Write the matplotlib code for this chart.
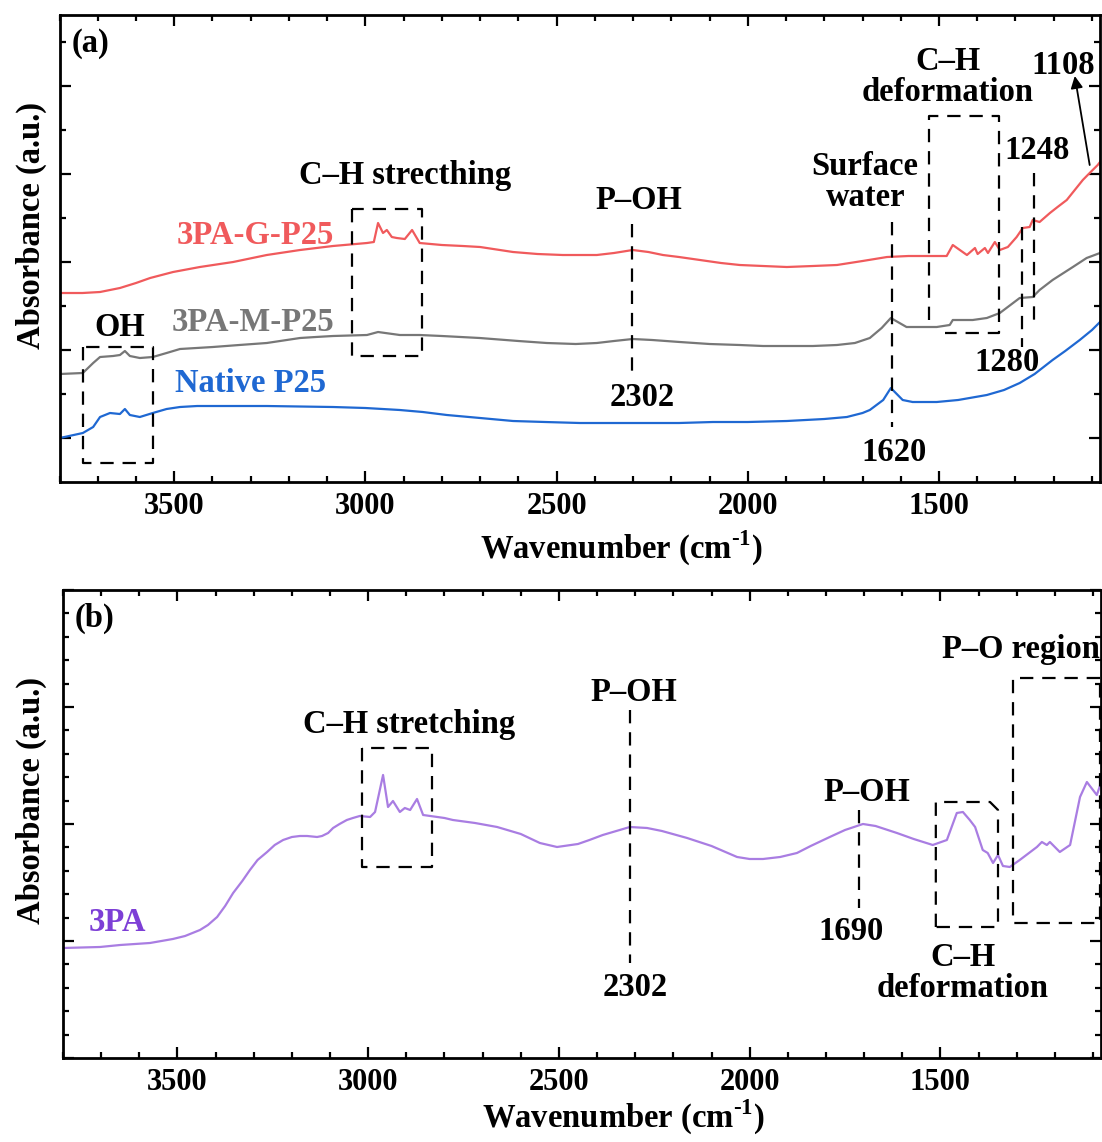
import numpy as np
import matplotlib
matplotlib.use("Agg")
import matplotlib.pyplot as plt
from matplotlib.ticker import MultipleLocator, FixedLocator

plt.rcParams['font.family'] = ['Liberation Serif', 'DejaVu Serif']
plt.rcParams['font.weight'] = 'bold'
plt.rcParams['mathtext.fontset'] = 'custom'
plt.rcParams['mathtext.rm'] = 'Liberation Serif:bold'
plt.rcParams['mathtext.bf'] = 'Liberation Serif:bold'
plt.rcParams['axes.labelweight'] = 'bold'

# ---- panel (a) spectra (wavenumber cm-1, absorbance a.u.) ----
g_wn = [3799, 3740, 3694, 3642, 3600, 3563, 3503, 3433, 3346, 3258, 3171, 3085,
        2996, 2978, 2967, 2954, 2944, 2931, 2918, 2897, 2878, 2858, 2800, 2745,
        2700, 2614, 2550, 2484, 2395, 2350, 2301, 2260, 2222, 2180, 2125, 2070,
        2021, 1960, 1898, 1830, 1767, 1700, 1636, 1580, 1516, 1480, 1464, 1427,
        1406, 1399, 1380, 1372, 1354, 1341, 1320, 1297, 1281, 1263, 1255, 1237,
        1210, 1190, 1166, 1145, 1124, 1106, 1085, 1079]
g_ab = [1.89, 1.89, 1.90, 1.94, 1.99, 2.04, 2.10, 2.15, 2.20, 2.27, 2.32, 2.36,
        2.39, 2.40, 2.59, 2.49, 2.52, 2.45, 2.44, 2.43, 2.52, 2.39, 2.37, 2.36,
        2.35, 2.30, 2.28, 2.27, 2.27, 2.29, 2.32, 2.30, 2.27, 2.25, 2.22, 2.19,
        2.17, 2.16, 2.15, 2.16, 2.17, 2.21, 2.25, 2.26, 2.26, 2.26, 2.37, 2.27,
        2.34, 2.28, 2.34, 2.29, 2.40, 2.32, 2.35, 2.45, 2.54, 2.55, 2.62, 2.60,
        2.69, 2.75, 2.82, 2.92, 3.02, 3.09, 3.17, 3.20]

m_wn = [3799, 3739, 3712, 3694, 3660, 3642, 3629, 3616, 3590, 3556, 3520, 3485,
        3399, 3330, 3258, 3171, 3130, 3085, 2996, 2967, 2910, 2858, 2800, 2701,
        2600, 2526, 2450, 2395, 2350, 2301, 2250, 2178, 2100, 2021, 1960, 1898,
        1830, 1767, 1720, 1681, 1650, 1626, 1585, 1506, 1472, 1464, 1412, 1375,
        1341, 1289, 1255, 1237, 1203, 1150, 1114, 1079]
m_ab = [1.08, 1.09, 1.19, 1.25, 1.26, 1.27, 1.31, 1.26, 1.24, 1.25, 1.29, 1.33,
        1.35, 1.37, 1.39, 1.44, 1.45, 1.46, 1.47, 1.50, 1.47, 1.47, 1.46, 1.44,
        1.41, 1.39, 1.38, 1.39, 1.41, 1.43, 1.42, 1.40, 1.38, 1.37, 1.36, 1.36,
        1.36, 1.37, 1.39, 1.44, 1.54, 1.64, 1.55, 1.55, 1.57, 1.62, 1.62, 1.64,
        1.69, 1.84, 1.85, 1.92, 2.02, 2.15, 2.24, 2.29]

n_wn = [3799, 3739, 3712, 3694, 3668, 3642, 3629, 3616, 3590, 3556, 3520, 3485,
        3440, 3388, 3258, 3085, 3000, 2910, 2850, 2787, 2700, 2614, 2530, 2439,
        2350, 2264, 2180, 2091, 2000, 1898, 1800, 1741, 1700, 1681, 1646, 1626,
        1595, 1569, 1506, 1450, 1375, 1330, 1289, 1250, 1203, 1170, 1132, 1100,
        1079]
n_ab = [0.44, 0.49, 0.55, 0.65, 0.69, 0.68, 0.73, 0.67, 0.65, 0.69, 0.73, 0.75,
        0.76, 0.76, 0.76, 0.75, 0.74, 0.72, 0.70, 0.67, 0.64, 0.61, 0.60, 0.59,
        0.59, 0.59, 0.59, 0.60, 0.60, 0.61, 0.63, 0.65, 0.69, 0.72, 0.82, 0.94,
        0.82, 0.80, 0.80, 0.82, 0.87, 0.92, 0.99, 1.08, 1.22, 1.31, 1.42, 1.52,
        1.60]

# ---- panel (b) spectrum ----
p_wn = [3800, 3703, 3650, 3572, 3512, 3480, 3441, 3420, 3396, 3375, 3354, 3330,
        3310, 3290, 3265, 3245, 3223, 3200, 3179, 3160, 3134, 3121, 3105, 3092,
        3075, 3056, 3040, 3022, 2995, 2982, 2961, 2948, 2935, 2917, 2904, 2890,
        2872, 2856, 2800, 2778, 2720, 2662, 2600, 2550, 2505, 2450, 2420, 2385,
        2314, 2269, 2230, 2164, 2100, 2033, 2000, 1965, 1920, 1876, 1840, 1790,
        1750, 1703, 1670, 1614, 1570, 1520, 1483, 1457, 1441, 1423, 1409, 1389,
        1376, 1362, 1349, 1336, 1318, 1292, 1247, 1234, 1221, 1213, 1187, 1160,
        1134, 1116, 1100, 1090, 1079]
p_ab = [1.10, 1.11, 1.13, 1.15, 1.19, 1.22, 1.28, 1.33, 1.41, 1.52, 1.65, 1.77,
        1.88, 1.98, 2.06, 2.13, 2.18, 2.21, 2.22, 2.22, 2.21, 2.22, 2.25, 2.30,
        2.34, 2.38, 2.40, 2.42, 2.41, 2.46, 2.83, 2.51, 2.57, 2.46, 2.50, 2.48,
        2.59, 2.43, 2.40, 2.38, 2.35, 2.31, 2.24, 2.15, 2.11, 2.14, 2.18, 2.23,
        2.31, 2.30, 2.27, 2.20, 2.12, 2.01, 1.99, 1.99, 2.01, 2.05, 2.12, 2.21,
        2.28, 2.34, 2.32, 2.25, 2.19, 2.13, 2.18, 2.45, 2.46, 2.38, 2.31, 2.08,
        2.05, 1.95, 2.03, 1.92, 1.91, 1.98, 2.11, 2.16, 2.13, 2.16, 2.06, 2.13,
        2.61, 2.76, 2.68, 2.63, 2.75]

c_red = '#F05A5C'
c_gray = '#777777'
c_blue = '#1F68D2'
c_purple = '#A97DE2'
c_purple_txt = '#7D3FD6'

fs_lab = 23.5
fs_tick = 22
dash = (0, (6, 4))

fig = plt.figure(figsize=(11.02, 11.42), dpi=100)
ax1 = fig.add_axes([0.0540, 0.57793, 0.94419, 0.40893])
ax2 = fig.add_axes([0.05717, 0.07356, 0.94192, 0.40981])


def style(ax):
    ax.set_xlim(3800, 1079)
    ax.xaxis.set_major_locator(FixedLocator([3500, 3000, 2500, 2000, 1500]))
    ax.xaxis.set_minor_locator(MultipleLocator(100))
    ax.tick_params(which='both', direction='in', top=True, right=True,
                   width=1.6, labelsize=fs_tick, pad=7)
    ax.tick_params(which='major', length=8)
    ax.tick_params(which='minor', length=4)
    ax.tick_params(axis='y', labelleft=False)
    for s in ax.spines.values():
        s.set_linewidth(2.0)
    ax.set_xlabel(r'Wavenumber (cm$^{\text{-1}}$)', fontsize=fs_lab)
    ax.set_ylabel('Absorbance (a.u.)', fontsize=fs_lab)


def box(ax, xs, ys):
    ax.plot(xs, ys, color='black', lw=1.6, ls=dash, clip_on=False)


def txt(ax, x, y, s, **kw):
    kw.setdefault('ha', 'center')
    kw.setdefault('va', 'center')
    kw.setdefault('fontsize', fs_lab)
    ax.text(x, y, s, fontweight='bold', linespacing=1.0, **kw)


# ---------------- panel (a) ----------------
style(ax1)
ax1.set_ylim(0, 4.67)
ax1.yaxis.set_major_locator(FixedLocator([0.44, 1.32, 2.20, 3.08, 3.96]))
ax1.yaxis.set_minor_locator(FixedLocator([0.88, 1.76, 2.64, 3.52, 4.40]))
ax1.plot(g_wn, g_ab, color=c_red, lw=1.6)
ax1.plot(m_wn, m_ab, color=c_gray, lw=1.6)
ax1.plot(n_wn, n_ab, color=c_blue, lw=1.6)

txt(ax1, 3493, 2.47, '3PA-G-P25', color=c_red, ha='left')
txt(ax1, 3506, 1.60, '3PA-M-P25', color=c_gray, ha='left')
txt(ax1, 3498, 0.99, 'Native P25', color=c_blue, ha='left')
ax1.text(0.012, 0.94, '(a)', transform=ax1.transAxes, fontsize=fs_lab,
         fontweight='bold', ha='left', va='center')

# OH
box(ax1, [3739, 3739, 3556, 3556, 3739], [1.35, 0.19, 0.19, 1.35, 1.35])
txt(ax1, 3642, 1.55, 'OH')
# C-H stretching
box(ax1, [3035, 3035, 2852, 2852, 3035], [2.73, 1.26, 1.26, 2.73, 2.73])
txt(ax1, 2897, 3.07, 'C–H strecthing')
# P-OH 2302
box(ax1, [2302, 2302], [2.58, 1.07])
txt(ax1, 2285, 2.82, 'P–OH')
txt(ax1, 2275, 0.85, '2302')
# surface water 1620
box(ax1, [1622, 1622], [2.60, 0.55])
txt(ax1, 1693, 3.0, 'Surface\nwater')
txt(ax1, 1618, 0.30, '1620')
# C-H deformation
box(ax1, [1527, 1527, 1344, 1344, 1485], [1.62, 3.66, 3.66, 1.49, 1.49])
txt(ax1, 1477, 4.05, 'C–H\ndeformation')
# 1280 / 1248
box(ax1, [1284, 1284], [2.55, 1.35])
txt(ax1, 1323, 1.20, '1280')
box(ax1, [1252, 1252], [3.09, 1.59])
txt(ax1, 1243, 3.32, '1248')
# 1108
txt(ax1, 1174, 4.17, '1108')
ax1.annotate('', xy=(1145, 4.06), xytext=(1106, 3.17),
             arrowprops=dict(arrowstyle='-|>', color='black', lw=1.3,
                             mutation_scale=18, shrinkA=0, shrinkB=0))

ax1.xaxis.set_label_coords(0.54, -0.10)
ax1.yaxis.set_label_coords(-0.012, 0.55)

# ---------------- panel (b) ----------------
style(ax2)
ax2.set_ylim(0, 4.68)
ax2.yaxis.set_major_locator(MultipleLocator(1.17))
ax2.yaxis.set_minor_locator(MultipleLocator(0.234))
ax2.plot(p_wn, p_ab, color=c_purple, lw=1.6)

txt(ax2, 3734, 1.35, '3PA', color=c_purple_txt, ha='left')
ax2.text(0.011, 0.94, '(b)', transform=ax2.transAxes, fontsize=fs_lab,
         fontweight='bold', ha='left', va='center')

# C-H stretching
box(ax2, [3016, 3016, 2833, 2833, 3016], [3.10, 1.91, 1.91, 3.10, 3.10])
txt(ax2, 2893, 3.33, 'C–H stretching')
# P-OH 2302
box(ax2, [2314, 2314], [3.48, 0.95])
txt(ax2, 2303, 3.65, 'P–OH')
txt(ax2, 2299, 0.70, '2302')
# P-OH 1690
box(ax2, [1714, 1714], [2.48, 1.50])
txt(ax2, 1692, 2.65, 'P–OH')
txt(ax2, 1734, 1.26, '1690')
# C-H deformation
box(ax2, [1512, 1512, 1370, 1349, 1349, 1512], [1.31, 2.56, 2.56, 2.48, 1.31, 1.31])
txt(ax2, 1441, 0.85, 'C–H\ndeformation')
# P-O region
box(ax2, [1082, 1310, 1310, 1082, 1082], [3.80, 3.80, 1.35, 1.35, 3.80])
txt(ax2, 1289, 4.08, 'P–O region')

ax2.xaxis.set_label_coords(0.54, -0.085)
ax2.yaxis.set_label_coords(-0.015, 0.55)

fig.savefig('out.png', dpi=100)
